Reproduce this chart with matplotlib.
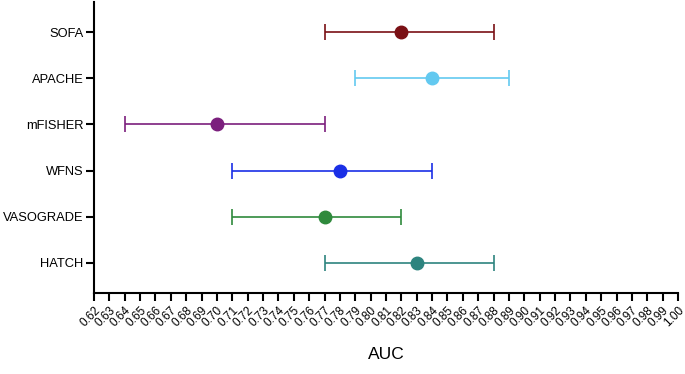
import numpy as np
import matplotlib
matplotlib.use("Agg")
import matplotlib.pyplot as plt

# AUC with 95% CI per score
scores = ["SOFA", "APACHE", "mFISHER", "WFNS", "VASOGRADE", "HATCH"]
auc = [0.82, 0.84, 0.70, 0.78, 0.77, 0.83]
ci_low = [0.77, 0.79, 0.64, 0.71, 0.71, 0.77]
ci_high = [0.88, 0.89, 0.77, 0.84, 0.82, 0.88]
colors = ["#7a1015", "#63c9f0", "#7b1f7d", "#1a2fe6", "#2f8a3c", "#2d847f"]
xticks = np.round(np.arange(0.62, 1.0001, 0.01), 2)

plt.rcParams["font.family"] = ["Liberation Sans", "DejaVu Sans"]

fig = plt.figure(figsize=(6.85, 3.74), dpi=100)
ax = fig.add_axes([94/685, 81/374, 584/685, 291/374])

n = len(scores)
ypos = np.arange(n)[::-1]
for i in range(n):
    ax.errorbar(auc[i], ypos[i],
                xerr=[[auc[i] - ci_low[i]], [ci_high[i] - auc[i]]],
                fmt="o", color=colors[i], ms=9, elinewidth=1.2,
                capsize=6, capthick=1.2)

ax.set_yticks(ypos)
ax.set_yticklabels(scores, fontsize=9.3)
ax.set_ylim(-0.65, 5.65)
ax.set_xlim(0.62, 1.00)
ax.set_xticks(xticks)
ax.set_xticklabels(["%.2f" % t for t in xticks], rotation=45,
                   ha="right", va="top", rotation_mode="anchor", fontsize=8.5)
ax.set_xlabel("AUC", fontsize=12.5, va="center")
ax.xaxis.set_label_coords(0.5, -0.213)

for s in ["top", "right"]:
    ax.spines[s].set_visible(False)
for s in ["left", "bottom"]:
    ax.spines[s].set_linewidth(1.5)
ax.tick_params(axis="both", width=1.5, length=6)
ax.tick_params(axis="y", pad=1.5)
ax.tick_params(axis="x", pad=2)

fig.savefig("out.png", dpi=100)
